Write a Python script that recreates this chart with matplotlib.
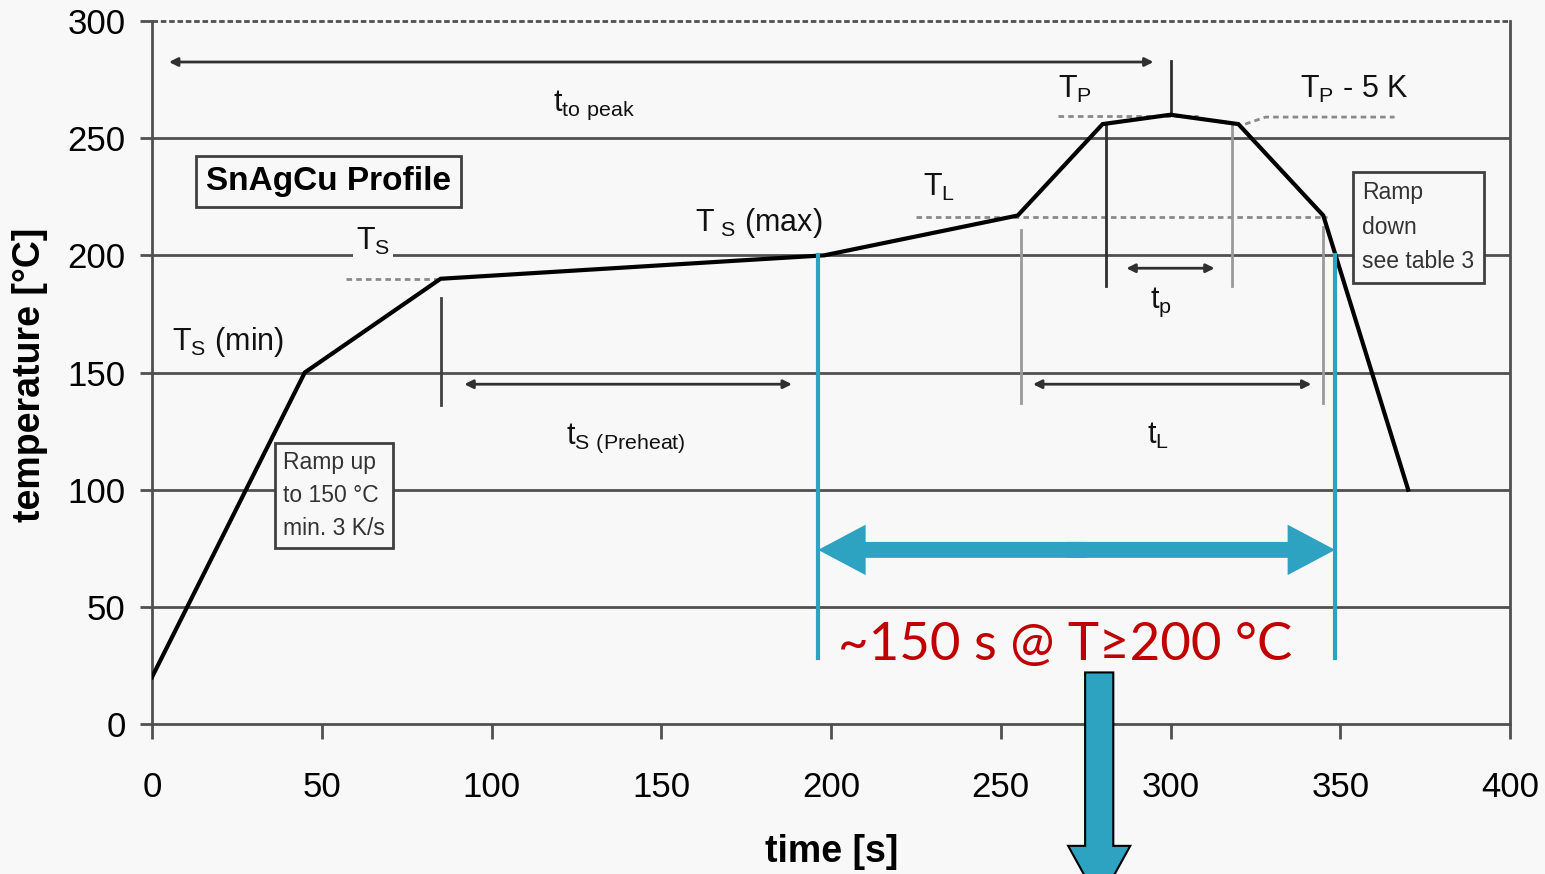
import matplotlib
matplotlib.use("Agg")
import matplotlib.pyplot as plt
from matplotlib.patches import FancyArrow

plt.rcParams['font.family'] = ['Liberation Sans', 'DejaVu Sans']
plt.rcParams['mathtext.default'] = 'regular'

BG = '#f8f8f8'
GRID = '#505050'
BLUE = '#2ea3c1'

# reflow profile (time s, temperature degC)
profile_t = [0, 45, 85, 198, 255, 280, 300, 320, 345, 370]
profile_T = [20, 150, 190, 200, 217, 256, 260, 256, 217, 100]

x_ticks = [0, 50, 100, 150, 200, 250, 300, 350, 400]
y_ticks = [0, 50, 100, 150, 200, 250, 300]

# black dimension arrows
dim_t0 = [5, 92, 259.5, 287]
dim_t1 = [295, 188.5, 341.5, 313]
dim_T = [282.5, 145, 145, 194.5]

# vertical marker lines
mark_t = [85, 256, 345, 281, 318, 300]
mark_T0 = [136, 137, 137, 187, 187, 260]
mark_T1 = [182, 211, 212, 256, 256, 283]
mark_col = ['#404040', '#9a9a9a', '#9a9a9a', '#303030', '#9a9a9a', '#303030']

# dotted reference levels
dot_lines = [
    ([57, 85], [190, 190]),
    ([225, 346], [216.5, 216.5]),
    ([267, 308], [259.5, 259.5]),
    ([322, 328, 366], [256, 259, 259]),
]

# labels
lab_text = [r'$t_{to\ peak}$', r'$T_S$ (min)', r'$T_{\ S}$ (max)', r'$T_L$',
            r'$T_P$', r'$T_P$ - 5 K', r'$t_{S\ (Preheat)}$', r'$t_L$', r'$t_p$']
lab_t = [118, 6, 160, 227, 267, 338, 122, 293, 294]
lab_T = [264, 163, 214, 229, 271, 271, 122, 123, 180]

# blue annotation: time above 200 degC
hot_t0 = 196.2
hot_t1 = 348.5
hot_top = 200
hot_bottom = 28
hot_arrow_T = 74.3
down_t = 279
down_T0 = 22
down_T1 = -76

fig = plt.figure(figsize=(15.45, 8.74), dpi=100, facecolor=BG)
ax = fig.add_axes([152 / 1545, 1 - 724 / 874, 1358 / 1545, 703 / 874])
ax.set_facecolor(BG)
ax.set_xlim(0, 400)
ax.set_ylim(0, 300)

for s in ['left', 'right', 'bottom']:
    ax.spines[s].set_color(GRID)
    ax.spines[s].set_linewidth(2)
ax.spines['top'].set_visible(False)

for y in y_ticks[1:-1]:
    ax.axhline(y, color=GRID, lw=2, zorder=1)
ax.axhline(300, color=GRID, lw=2, ls=(0, (2, 1)), zorder=1, clip_on=False)

ax.set_xticks(x_ticks)
ax.set_yticks(y_ticks)
ax.tick_params(axis='x', direction='out', length=11, width=2, color=GRID,
               labelsize=25, pad=23)
ax.tick_params(axis='y', direction='out', length=9, width=2, color=GRID,
               labelsize=25, pad=10)

# profile curve
ax.plot(profile_t, profile_T, color='black', lw=3, zorder=5, solid_joinstyle='miter')

for (tt, TT) in dot_lines:
    ax.plot(tt, TT, color='#8a8a8a', lw=2, ls=(0, (2, 1.5)), zorder=3)

for t, a, b, c in zip(mark_t, mark_T0, mark_T1, mark_col):
    ax.plot([t, t], [a, b], color=c, lw=2, zorder=3)

for a, b, T in zip(dim_t0, dim_t1, dim_T):
    ax.annotate('', xy=(b, T), xytext=(a, T),
                arrowprops=dict(arrowstyle='<|-|>,head_length=0.5,head_width=0.25',
                                color='#303030', lw=2, shrinkA=0, shrinkB=0),
                zorder=4)

for s, t, T in zip(lab_text, lab_t, lab_T):
    ax.text(t, T, s, fontsize=22, ha='left', va='center', color='#111111', zorder=6)

# T_S label breaks the 200 grid line
ax.text(65, 206, r'$T_S$', fontsize=22, ha='center', va='center', color='#111111',
        zorder=6, bbox=dict(facecolor=BG, edgecolor='none', pad=2))

# boxed notes
ax.text(52, 231.5, 'SnAgCu Profile', fontsize=24, weight='bold', ha='center', va='center',
        zorder=6, bbox=dict(facecolor=BG, edgecolor='#404040', lw=2,
                            boxstyle='square,pad=0.3'))
ax.text(38.5, 97.5, 'Ramp up\nto 150 °C\nmin. 3 K/s', fontsize=16.5, color='#333333',
        ha='left', va='center', linespacing=1.55, zorder=6,
        bbox=dict(facecolor=BG, edgecolor='#404040', lw=2, boxstyle='square,pad=0.35'))
ax.text(356.5, 212, 'Ramp\ndown\nsee table 3', fontsize=16.5, color='#333333',
        ha='left', va='center', linespacing=1.65, zorder=6,
        bbox=dict(facecolor=BG, edgecolor='#404040', lw=2, boxstyle='square,pad=0.4'))

# blue annotation
ax.plot([hot_t0, hot_t0], [hot_top, hot_bottom], color=BLUE, lw=3, zorder=7)
ax.plot([hot_t1, hot_t1], [hot_top, hot_bottom], color=BLUE, lw=3, zorder=7)
mid = (hot_t0 + hot_t1) / 2
for end, shift in [(hot_t0, 3), (hot_t1, -3)]:
    ax.add_patch(FancyArrow(mid + shift, hot_arrow_T, end - mid - shift, 0, width=6.8,
                            head_width=21.5, head_length=14, length_includes_head=True,
                            color=BLUE, lw=0, zorder=7))
ax.text(269, 33.5, '~150 s @ T≥200 °C', fontsize=38, color='#c00000',
        family=['Lato', 'DejaVu Sans'], ha='center', va='center', zorder=8)
ax.add_patch(FancyArrow(down_t, down_T0, 0, down_T1 - down_T0, width=8.3, head_width=18.3,
                        head_length=24, length_includes_head=True,
                        facecolor=BLUE, edgecolor='black', lw=1.5, zorder=8,
                        clip_on=False))

fig.text(30 / 1545, 1 - 375 / 874, 'temperature [°C]', rotation=90, ha='center',
         va='center', fontsize=27, weight='bold')
fig.text(832 / 1545, 1 - 852 / 874, 'time [s]', ha='center', va='center',
         fontsize=27, weight='bold')

fig.savefig('out.png', dpi=100, facecolor=BG)
